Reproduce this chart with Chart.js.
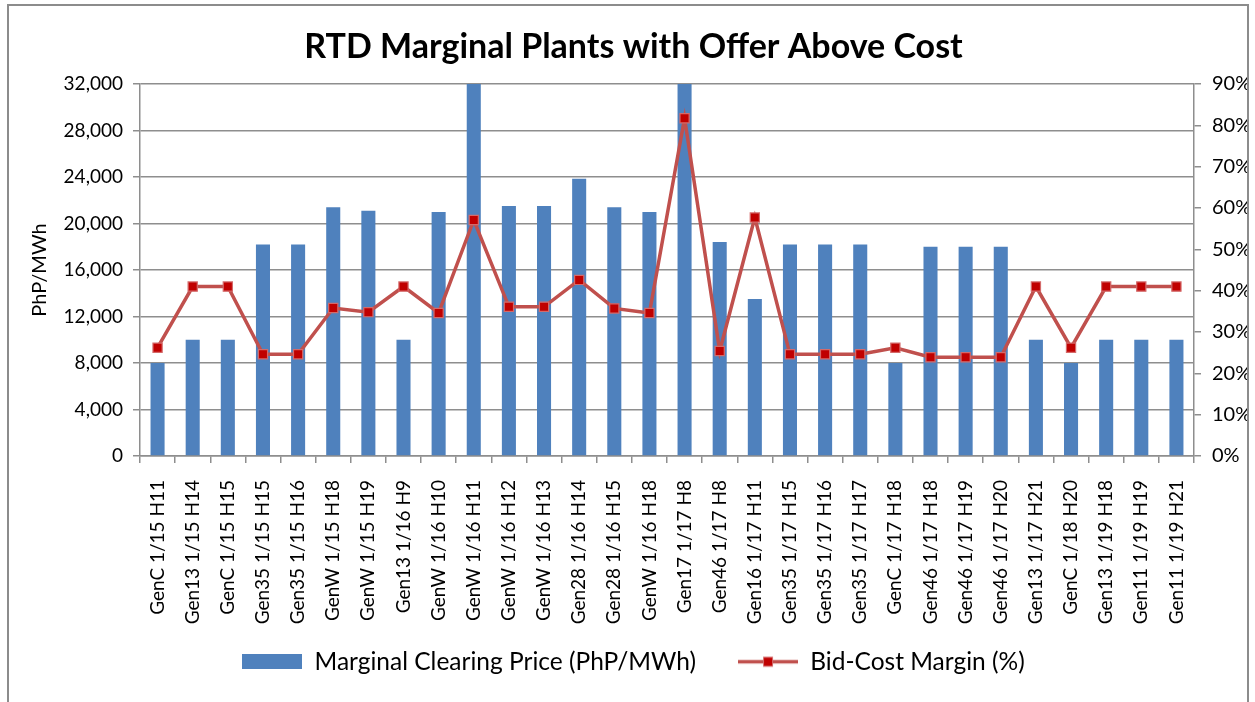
<!DOCTYPE html>
<html>
<head>
<meta charset="utf-8">
<script src="https://cdn.jsdelivr.net/npm/chart.js@4.4.0/dist/chart.umd.min.js"></script>
<style>
  html, body { margin: 0; padding: 0; background: #fff; }
  #wrap { position: relative; width: 1255px; height: 702px; overflow: hidden; }
  #frame { position: absolute; left: 7px; top: 4px; width: 1238px; height: 720px; border: 2px solid #8c8c8c; pointer-events: none; }
  canvas { position: absolute; left: 0; top: 0; }
</style>
</head>
<body>
<div id="wrap">
  <canvas id="chart" width="1255" height="702"></canvas>
  <div id="frame"></div>
</div>
<script>
// Categories (plant / date / hour)
const labels = [
  'GenC 1/15 H11', 'Gen13 1/15 H14', 'GenC 1/15 H15', 'Gen35 1/15 H15', 'Gen35 1/15 H16',
  'GenW 1/15 H18', 'GenW 1/15 H19', 'Gen13 1/16 H9', 'GenW 1/16 H10', 'GenW 1/16 H11',
  'GenW 1/16 H12', 'GenW 1/16 H13', 'Gen28 1/16 H14', 'Gen28 1/16 H15', 'GenW 1/16 H18',
  'Gen17 1/17 H8', 'Gen46 1/17 H8', 'Gen16 1/17 H11', 'Gen35 1/17 H15', 'Gen35 1/17 H16',
  'Gen35 1/17 H17', 'GenC 1/17 H18', 'Gen46 1/17 H18', 'Gen46 1/17 H19', 'Gen46 1/17 H20',
  'Gen13 1/17 H21', 'GenC 1/18 H20', 'Gen13 1/19 H18', 'Gen11 1/19 H19', 'Gen11 1/19 H21'
];

// Marginal clearing price, PhP/MWh (the two spikes run off the top of the axis)
const clearingPrice = [
  8000, 10000, 10000, 18200, 18200,
  21400, 21100, 10000, 21000, 32000,
  21500, 21500, 23850, 21400, 21000,
  32000, 18400, 13500, 18200, 18200,
  18200, 8000, 18000, 18000, 18000,
  10000, 8000, 10000, 10000, 10000
];

// Bid-cost margin, %
const bidCostMargin = [
  26.2, 41.0, 41.0, 24.6, 24.6,
  35.8, 34.8, 41.0, 34.6, 57.1,
  36.1, 36.1, 42.6, 35.7, 34.6,
  81.7, 25.4, 57.7, 24.6, 24.6,
  24.6, 26.2, 23.9, 23.9, 23.9,
  41.0, 26.2, 41.0, 41.0, 41.0
];

// Left / right axis ticks
const priceTicks = [0, 4000, 8000, 12000, 16000, 20000, 24000, 28000, 32000];
const marginTicks = [0, 10, 20, 30, 40, 50, 60, 70, 80, 90];

const BLUE = '#4f81bd';
const RED = '#c0504d';
const DARKRED = '#c00000';
const GRID = '#8e8e8e';

// legend icons
function barIcon() {
  const c = document.createElement('canvas');
  c.width = 60; c.height = 15;
  const g = c.getContext('2d');
  g.fillStyle = BLUE;
  g.fillRect(0, 0, 60, 15);
  return c;
}
function lineIcon() {
  const c = document.createElement('canvas');
  c.width = 60; c.height = 15;
  const g = c.getContext('2d');
  g.strokeStyle = RED;
  g.lineWidth = 3.5;
  g.beginPath(); g.moveTo(0, 7.5); g.lineTo(60, 7.5); g.stroke();
  g.fillStyle = DARKRED;
  g.fillRect(25.5, 3, 9, 9);
  g.strokeStyle = '#d46a6a';
  g.lineWidth = 1;
  g.strokeRect(25.5, 3, 9, 9);
  return c;
}

Chart.defaults.font.family = 'Lato, "Open Sans", sans-serif';
Chart.defaults.color = '#000';

new Chart(document.getElementById('chart'), {
  type: 'bar',
  data: {
    labels: labels,
    datasets: [
      {
        type: 'bar',
        label: 'Marginal Clearing Price (PhP/MWh)',
        data: clearingPrice,
        backgroundColor: BLUE,
        borderWidth: 0,
        categoryPercentage: 1,
        barPercentage: 0.4,
        yAxisID: 'y',
        order: 2
      },
      {
        type: 'line',
        label: 'Bid-Cost Margin (%)',
        data: bidCostMargin,
        borderColor: RED,
        borderWidth: 3.5,
        pointStyle: 'rect',
        pointRadius: 6.5,
        pointBackgroundColor: DARKRED,
        pointBorderColor: '#d46a6a',
        pointBorderWidth: 1.2,
        tension: 0,
        yAxisID: 'y1',
        order: 1
      }
    ]
  },
  options: {
    responsive: false,
    animation: false,
    layout: { padding: { top: 10, left: 20, right: 8, bottom: 18 } },
    plugins: {
      title: {
        display: true,
        text: 'RTD Marginal Plants with Offer Above Cost',
        font: { size: 34, weight: 'bold' },
        color: '#000',
        padding: { top: 16.6, bottom: 16.6 }
      },
      legend: {
        position: 'bottom',
        labels: {
          usePointStyle: true,
          pointStyleWidth: 60,
          boxHeight: 15,
          padding: 42,
          font: { size: 24.5 },
          color: '#000',
          generateLabels: () => [
            { text: 'Marginal Clearing Price (PhP/MWh)', pointStyle: barIcon(), fillStyle: BLUE, strokeStyle: BLUE, lineWidth: 0, hidden: false, datasetIndex: 0 },
            { text: 'Bid-Cost Margin (%)', pointStyle: lineIcon(), fillStyle: RED, strokeStyle: RED, lineWidth: 0, hidden: false, datasetIndex: 1 }
          ]
        }
      },
      tooltip: { enabled: false }
    },
    scales: {
      x: {
        // fixed height; labels may run past the box, so don't clip them to it
        afterFit: s => { s.height = 151.5; s._computeLabelArea = () => undefined; },
        grid: { offset: true, drawOnChartArea: false, color: GRID, lineWidth: 1.5, tickLength: 7 },
        border: { color: GRID, width: 1.5 },
        ticks: { minRotation: 90, maxRotation: 90, autoSkip: false, padding: 17, font: { size: 19 } }
      },
      y: {
        position: 'left',
        min: 0,
        max: 32000,
        afterFit: s => { s.width = 120; },
        afterBuildTicks: s => { s.ticks = priceTicks.map(v => ({ value: v })); },
        grid: { color: GRID, lineWidth: 1.5, tickLength: 7 },
        border: { color: GRID, width: 1.5 },
        ticks: { padding: 10, font: { size: 19 }, callback: v => v.toLocaleString('en-US') },
        title: { display: true, text: 'PhP/MWh', font: { size: 20 }, padding: { top: 8, bottom: 0 } }
      },
      y1: {
        position: 'right',
        min: 0,
        max: 90,
        afterFit: s => { s.width = 53; },
        afterBuildTicks: s => { s.ticks = marginTicks.map(v => ({ value: v })); },
        grid: { drawOnChartArea: false, color: GRID, lineWidth: 1.5, tickLength: 7 },
        border: { color: GRID, width: 1.5 },
        ticks: { padding: 11, font: { size: 20 }, callback: v => v + '%' }
      }
    }
  }
});
</script>
</body>
</html>
